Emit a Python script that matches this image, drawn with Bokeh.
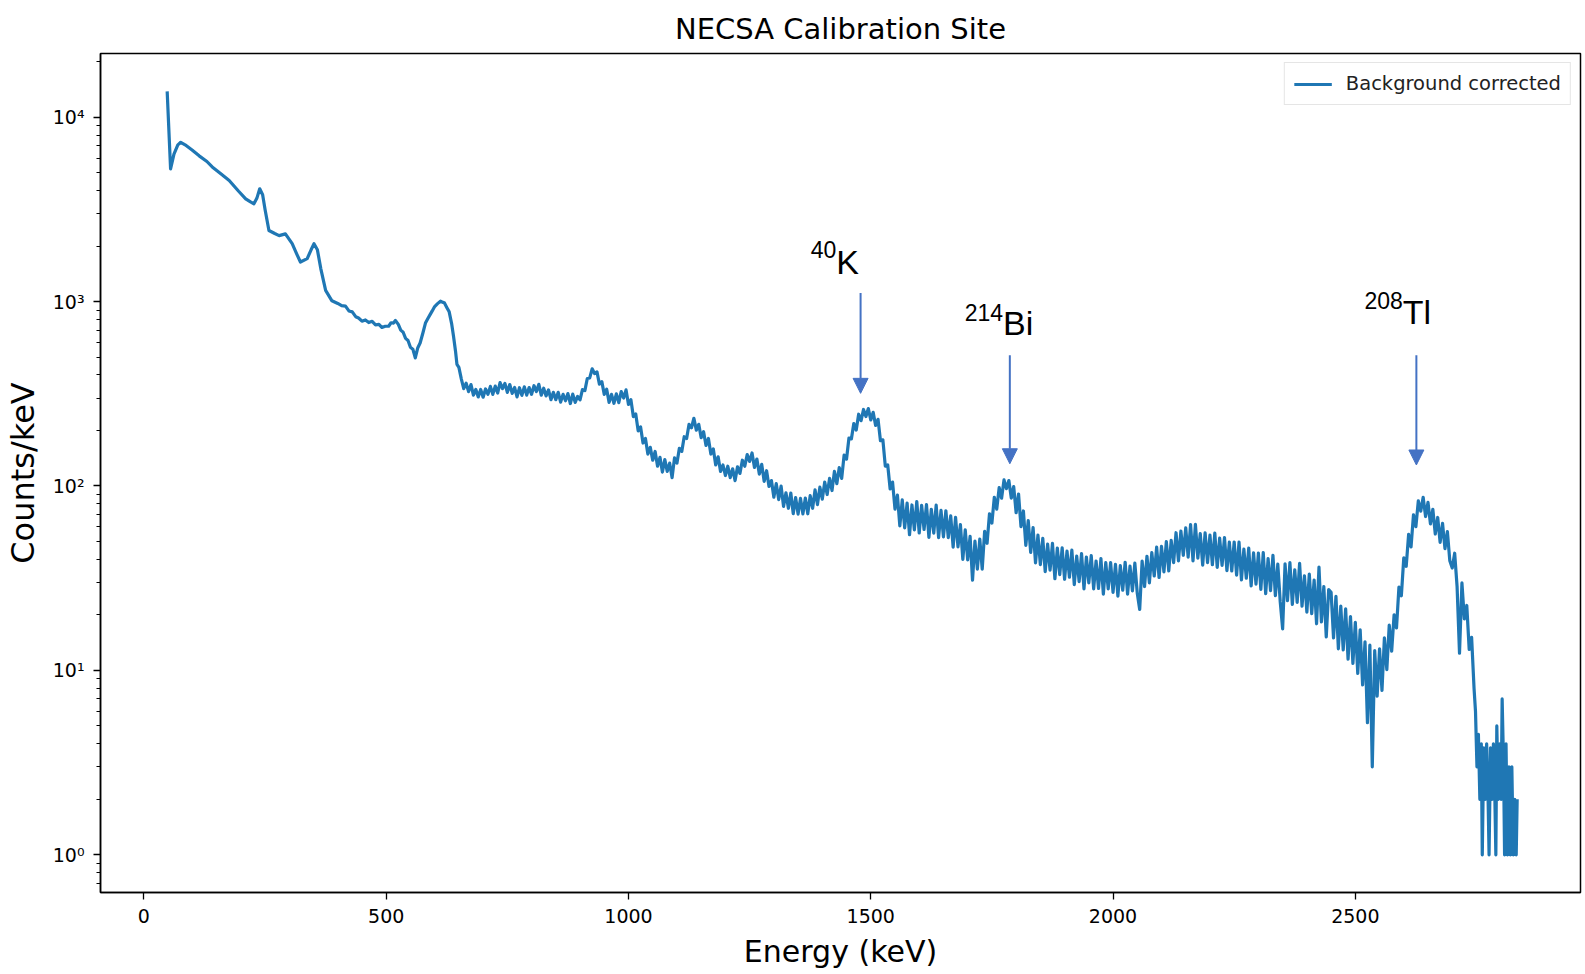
import numpy as np
from bokeh.plotting import figure
from bokeh.models import (Range1d, FixedTicker, CustomJSTickFormatter, Arrow,
                          NormalHead, ColumnDataSource)
from bokeh.core.properties import value
from bokeh.embed import file_html
from bokeh.resources import INLINE

# ---------------------------------------------------------------------------
# Spectrum data (counts per keV)
# ---------------------------------------------------------------------------
# low-energy part, irregular energy points
low_energy_kev = [48, 55, 62, 70, 76, 85, 100, 114, 130, 141, 160, 176, 195, 210,
                  220, 227, 233, 239, 245, 250, 258, 270, 279, 292, 306, 315, 323,
                  337, 345, 351, 358, 365, 375, 388, 400, 408, 416, 423, 430, 437,
                  443, 450, 457, 464, 471, 478, 485, 491, 498, 505, 510, 515, 519,
                  525, 530, 535, 540, 545, 550, 555, 560, 565, 570, 576, 581, 586,
                  590, 595, 600, 606, 612, 617, 620, 625, 630, 635, 639, 643, 646]
low_counts = [13800, 5250, 6300, 7080, 7310, 7080, 6610, 6170, 5750, 5370, 4900,
              4540, 3980, 3610, 3470, 3390, 3630, 4090, 3800, 3160, 2430, 2340,
              2280, 2330, 2060, 1820, 1640, 1710, 1910, 2060, 1910, 1510, 1150,
              1010, 977, 950, 945, 890, 880, 828, 815, 783, 795, 770, 782, 748,
              752, 724, 735, 735, 768, 765, 790, 752, 700, 682, 632, 615, 565,
              552, 495, 560, 596, 680, 765, 810, 845, 890, 940, 975, 1005, 990,
              985, 930, 880, 760, 646, 540, 457]

# main part, 5 keV channels starting at 650 keV
mid_start_kev = 650
mid_step_kev = 5
mid_counts = [
    440, 381, 337, 361, 325, 355, 311, 334, 304, 334,
    303, 336, 314, 347, 314, 348, 319, 364, 337, 360,
    322, 355, 318, 342, 304, 341, 310, 345, 311, 342,
    314, 350, 325, 356, 311, 339, 308, 332, 294, 322,
    294, 322, 285, 314, 290, 317, 280, 315, 284, 306,
    293, 333, 329, 383, 386, 432, 407, 416, 357, 368,
    314, 335, 284, 314, 281, 316, 283, 325, 300, 332,
    277, 294, 238, 246, 199, 209, 171, 181, 149, 162,
    138, 154, 128, 143, 119, 139, 120, 133, 111, 142,
    133, 160, 154, 185, 181, 216, 207, 233, 201, 216,
    183, 197, 166, 181, 149, 159, 130, 144, 120, 130,
    114, 128, 111, 124, 107, 127, 117, 138, 128, 148,
    136, 151, 126, 140, 116, 131, 106, 121, 99.5, 107,
    86.9, 103, 84.4, 99.8, 77.5, 91.9, 75.7, 91.6, 70.8, 86.5,
    70.4, 85.6, 70.6, 86.0, 70.7, 88.6, 75.7, 95.3, 79.3, 98.5,
    84.9, 105, 89.9, 110, 94.5, 120, 103, 126, 110, 147,
    140, 182, 180, 218, 201, 245, 226, 260, 238, 263,
    228, 251, 213, 230, 176, 178, 128, 130, 96.3, 105,
    74.9, 89.2, 60.8, 84.0, 59.3, 80.8, 54.4, 78.9, 57.8, 82.4,
    55.6, 78.5, 58.1, 79.3, 52.7, 74.8, 55.5, 78.7, 52.5, 73.7,
    53.0, 73.4, 52.5, 68.9, 46.6, 67.6, 46.8, 61.7, 40.0, 57.8,
    39.8, 53.3, 30.9, 50.3, 35.4, 51.5, 35.4, 56.8, 48.9, 70.7,
    63.0, 86.9, 74.9, 98.0, 85.9, 108, 96.8, 107, 86.0, 99.2,
    71.6, 90.5, 60.2, 73.2, 47.7, 64.9, 43.6, 59.4, 38.3, 54.1,
    37.5, 52.0, 34.3, 48.4, 35.0, 48.8, 31.4, 46.1, 33.1, 46.2,
    31.2, 44.4, 32.0, 44.9, 29.2, 41.7, 30.3, 43.0, 27.7, 41.2,
    29.8, 41.9, 27.7, 39.2, 27.8, 40.4, 25.9, 38.4, 27.7, 38.4,
    26.5, 37.6, 25.3, 37.0, 27.2, 38.6, 25.9, 36.8, 27.0, 38.2,
    26.2, 21.4, 39.1, 28.5, 41.6, 29.8, 43.5, 32.5, 46.6, 31.9,
    47.0, 34.2, 50.0, 34.6, 50.7, 38.4, 55.8, 39.3, 57.0, 42.1,
    59.3, 41.1, 61.7, 39.3, 61.9, 40.6, 55.2, 37.2, 55.7, 38.4,
    54.2, 37.4, 55.6, 36.2, 52.2, 37.1, 52.5, 34.8, 49.6, 34.6,
    49.7, 32.9, 49.6, 31.0, 45.5, 31.6, 46.1, 28.7, 43.4, 29.4,
    43.3, 27.5, 43.5, 26.1, 40.4, 27.1, 42.1, 25.4, 37.7, 23.6,
    16.8, 37.8, 23.9, 38.4, 22.8, 35.1, 23.4, 38.1, 22.3, 32.6,
    20.7, 33.3, 20.3, 30.9, 17.9, 36.3, 18.3, 28.5, 15.2, 27.4,
    26.5, 15.0, 25.2, 13.1, 22.3, 12.9, 21.6, 11.5, 19.6, 10.9,
    18.2, 9.62, 16.6, 8.35, 14.3, 5.2, 13.7, 3.0, 12.8, 7.24,
    13.1, 7.78, 15.0, 10.1, 17.6, 12.7, 20.0, 17.0, 28.3, 25.4,
    40.8, 36.7, 54.6, 46.7, 69.7, 60.2, 83.0, 73.0, 86.9, 68.3,
    81.5, 62.3, 74.7, 54.9, 67.5, 49.5, 62.7, 45.7, 56.6, 39.3,
    35.9, 43.2, 28.5, 12.4, 29.8, 19.0, 22.5, 13.0, 15.1, 8.0,
]

# high-energy tail where only a few counts per channel remain
tail_energy_kev = [2748, 2751, 2754, 2757, 2760, 2762, 2765, 2768, 2771, 2774,
                   2776, 2779, 2782, 2785, 2788, 2790, 2792, 2795, 2798, 2801,
                   2803, 2806, 2808, 2811, 2814, 2817, 2820, 2823, 2826, 2829,
                   2832, 2834]
tail_counts = [6.0, 3.0, 4.5, 2.0, 4.0, 1.0, 3.8, 2.0, 4.0, 2.0,
               1.0, 3.8, 2.0, 4.0, 2.0, 1.0, 5.0, 2.0, 4.0, 2.0,
               7.0, 3.0, 1.0, 4.0, 1.0, 3.0, 1.0, 3.0, 1.0, 2.0,
               1.0, 2.0]

# identified photopeaks
peak_mass = ["40", "214", "208"]
peak_symbol = ["K", "Bi", "Tl"]
peak_energy_kev = [1479, 1787, 2626]

# ---------------------------------------------------------------------------
mid_energy_kev = mid_start_kev + mid_step_kev * np.arange(len(mid_counts))
energy = np.concatenate([low_energy_kev, mid_energy_kev, tail_energy_kev])
counts = np.concatenate([low_counts, mid_counts, tail_counts])
spectrum = ColumnDataSource(dict(energy=energy, counts=counts))

LINE_BLUE = "#1f77b4"
ARROW_BLUE = "#4472c4"

p = figure(width=1585, height=974, y_axis_type="log",
           x_range=Range1d(-89.6, 2964.7), y_range=Range1d(0.6246, 22150),
           output_backend="svg", toolbar_location=None,
           min_border_left=98, min_border_right=5,
           min_border_top=53, min_border_bottom=82,
           title="NECSA Calibration Site")

p.background_fill_color = "white"
p.border_fill_color = "white"
p.outline_line_color = "black"
p.outline_line_width = 1.5
p.xgrid.visible = False
p.ygrid.visible = False

p.title.align = "center"
p.title.text_font = "DejaVu Sans"
p.title.text_font_size = "29px"
p.title.text_font_style = "normal"
p.title.text_color = "black"
p.title.standoff = 16

# x axis
p.xaxis.ticker = FixedTicker(ticks=[0, 500, 1000, 1500, 2000, 2500])
p.xaxis.axis_label = "Energy (keV)"
p.xaxis.axis_label_text_font_size = "30px"
p.xaxis.axis_label_standoff = 8

# y axis: decades with superscript exponents, 2..9 minor ticks
decades = [1, 10, 100, 1000, 10000]
minor = [m * 10.0 ** k for k in range(-1, 5) for m in range(2, 10)]
p.yaxis.ticker = FixedTicker(ticks=decades, minor_ticks=minor)
p.yaxis.formatter = CustomJSTickFormatter(code="""
    const sup = {"-": "\u207b", "0": "\u2070", "1": "\u00b9", "2": "\u00b2",
                 "3": "\u00b3", "4": "\u2074", "5": "\u2075", "6": "\u2076",
                 "7": "\u2077", "8": "\u2078", "9": "\u2079"};
    const e = Math.round(Math.log10(tick));
    return "10" + String(e).split("").map(c => sup[c]).join("");
""")
p.yaxis.axis_label = "Counts/keV"
p.yaxis.axis_label_text_font_size = "32px"
p.yaxis.axis_label_standoff = 8

for ax in (p.xaxis[0], p.yaxis[0]):
    ax.axis_line_color = "black"
    ax.axis_line_width = 1.5
    ax.major_tick_line_color = "black"
    ax.major_tick_line_width = 1.3
    ax.major_tick_in = 0
    ax.major_tick_out = 7
    ax.minor_tick_line_color = "black"
    ax.minor_tick_line_width = 1.0
    ax.minor_tick_in = 0
    ax.minor_tick_out = 4
    ax.major_label_text_font = "DejaVu Sans"
    ax.major_label_text_font_size = "19px"
    ax.major_label_text_color = "black"
    ax.major_label_standoff = 9
    ax.axis_label_text_font = "DejaVu Sans"
    ax.axis_label_text_font_style = "normal"
    ax.axis_label_text_color = "black"
p.xaxis.minor_tick_line_color = None

# spectrum
p.line("energy", "counts", source=spectrum, line_color=LINE_BLUE,
       line_width=3.2, line_join="round", legend_label="Background corrected")

leg = p.legend[0]
leg.location = "top_right"
leg.margin = 9
leg.padding = 9
leg.glyph_width = 38
leg.label_standoff = 14
leg.label_text_font = "DejaVu Sans"
leg.label_text_font_size = "19.5px"
leg.label_text_color = "#222222"
leg.border_line_color = "#cccccc"
leg.border_line_width = 1.5
leg.background_fill_color = "white"
leg.background_fill_alpha = 0.85

# peak markers: arrows from label down to the photopeak
arrow_top = [1112, 511, 511]
arrow_tip = [318, 132, 130]
for e, top, tip in zip(peak_energy_kev, arrow_top, arrow_tip):
    p.add_layout(Arrow(end=NormalHead(size=15, fill_color=ARROW_BLUE,
                                      line_color=ARROW_BLUE),
                       x_start=e, y_start=top, x_end=e, y_end=tip,
                       line_color=ARROW_BLUE, line_width=2))

# nuclide labels (mass number as superscript before the symbol)
label_split_kev = [1429, 1773, 2598]
symbol_base = [1644, 761, 882]
mass_base = [1915, 876, 1014]
p.text(x=label_split_kev, y=mass_base, text=peak_mass,
       text_font=value("Liberation Sans"), text_font_size="23px",
       text_align="right", text_baseline="alphabetic", text_color="black")
p.text(x=label_split_kev, y=symbol_base, text=peak_symbol,
       text_font=value("Liberation Sans"), text_font_size="34px",
       text_align="left", text_baseline="alphabetic", text_color="black")

open("out.html", "w").write(file_html(p, INLINE))
